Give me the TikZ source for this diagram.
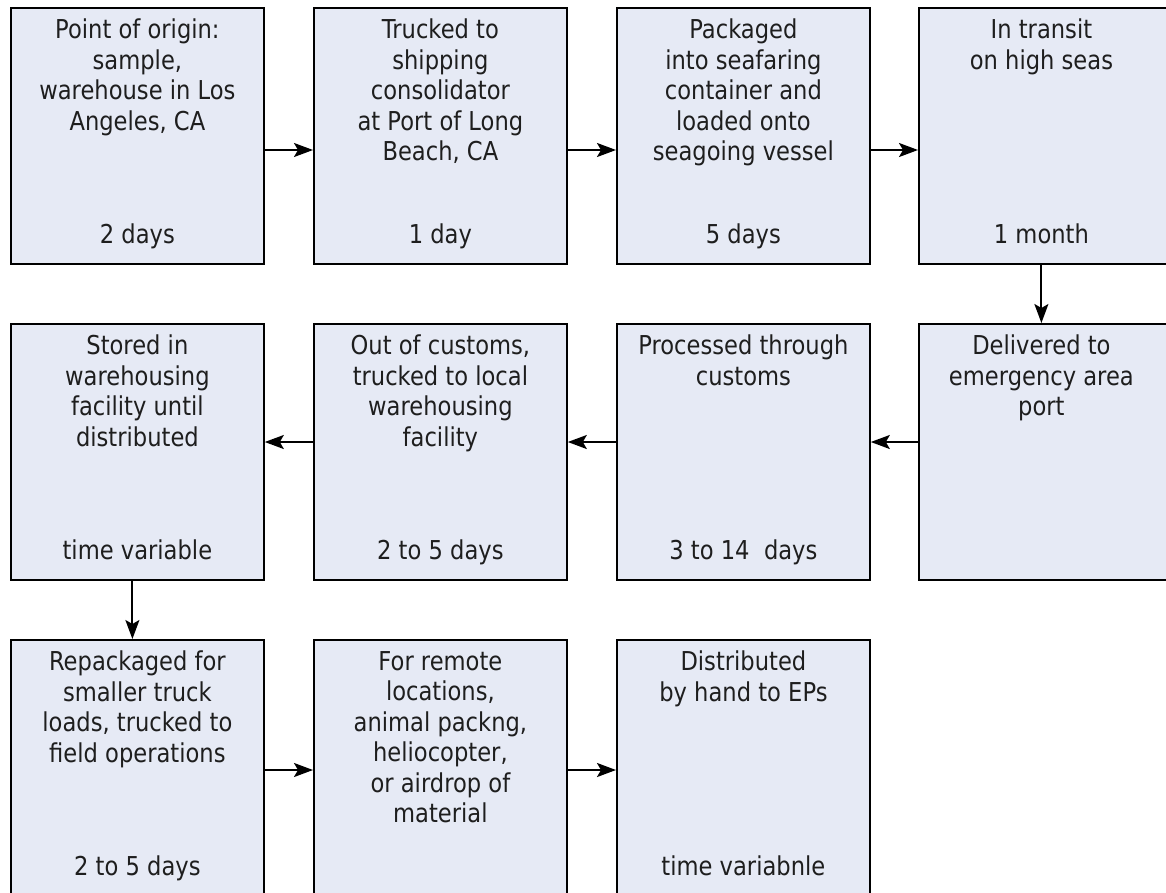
\documentclass[tikz,border=0pt]{standalone}
\usepackage{fontspec}
\setmainfont{DejaVu Sans}[FakeStretch=0.87]
\usetikzlibrary{arrows.meta}
\definecolor{boxfill}{RGB}{230,234,245}
\definecolor{txt}{RGB}{30,30,30}
\newcommand\bfnt{\fontsize{26}{30.5}\selectfont}
\begin{document}
\begin{tikzpicture}[x=1pt,y=-1pt,
  box/.style={draw=black, line width=1.8pt, fill=boxfill, minimum width=253pt, minimum height=256pt, anchor=north west, inner sep=0pt},
  toptext/.style={anchor=north, align=center, font=\bfnt, text=txt, inner sep=0pt, execute at begin node=\strut, yshift=-12pt},
  bottext/.style={anchor=base, font=\bfnt, text=txt, inner sep=0pt, yshift=21pt},
  arr/.style={line width=2pt, -{Stealth[length=19pt,width=14pt,inset=4pt]}}]
\useasboundingbox (0,0) rectangle (1166,892);
\clip (0,0) rectangle (1166,892);
% row 1
\node[box] (b1) at (10,7) {};
\node[box] (b2) at (313,7) {};
\node[box] (b3) at (616,7) {};
\node[box] (b4) at (918,7) {};
% row 2
\node[box] (b8) at (10,323) {};
\node[box] (b7) at (313,323) {};
\node[box] (b6) at (616,323) {};
\node[box] (b5) at (918,323) {};
% row 3
\node[box] (b9) at (10,639) {};
\node[box] (b10) at (313,639) {};
\node[box] (b11) at (616,639) {};
% texts
\node[toptext] (t1) at (b1.north) {Point of origin:\\sample,\\warehouse in Los\\Angeles, CA};
\node[bottext] (d1) at (b1.south) {2 days};
\node[toptext] (t2) at (b2.north) {Trucked to\\shipping\\consolidator\\at Port of Long\\Beach, CA};
\node[bottext] (d2) at (b2.south) {1 day};
\node[toptext] (t3) at (b3.north) {Packaged\\into seafaring\\container and\\loaded onto\\seagoing vessel};
\node[bottext] (d3) at (b3.south) {5 days};
\node[toptext] (t4) at ([xshift=-4pt]b4.north) {In transit\\on high seas};
\node[bottext] (d4) at ([xshift=-4pt]b4.south) {1 month};
\node[toptext] (t5) at ([xshift=-4pt]b5.north) {Delivered to\\emergency area\\port};
\node[toptext] (t6) at (b6.north) {Processed through\\customs};
\node[bottext] (d6) at (b6.south) {3 to 14\ \ days};
\node[toptext] (t7) at (b7.north) {Out of customs,\\trucked to local\\warehousing\\facility};
\node[bottext] (d7) at (b7.south) {2 to 5 days};
\node[toptext] (t8) at (b8.north) {Stored in\\warehousing\\facility until\\distributed};
\node[bottext] (d8) at (b8.south) {time variable};
\node[toptext] (t9) at (b9.north) {Repackaged for\\smaller truck\\loads, trucked to\\field operations};
\node[bottext] (d9) at (b9.south) {2 to 5 days};
\node[toptext] (t10) at (b10.north) {For remote\\locations,\\animal packng,\\heliocopter,\\or airdrop of\\material};
\node[toptext] (t11) at (b11.north) {Distributed\\by hand to EPs};
\node[bottext] (d11) at (b11.south) {time variabnle};
% arrows
\draw[arr] (b1.east |- 0,150) -- (b2.west |- 0,150);
\draw[arr] (b2.east |- 0,150) -- (b3.west |- 0,150);
\draw[arr] (b3.east |- 0,150) -- (b4.west |- 0,150);
\draw[arr] ([xshift=-4pt]b4.south) -- ([xshift=-4pt]b5.north);
\draw[arr] (b5.west |- 0,442) -- (b6.east |- 0,442);
\draw[arr] (b6.west |- 0,442) -- (b7.east |- 0,442);
\draw[arr] (b7.west |- 0,442) -- (b8.east |- 0,442);
\draw[arr] ([xshift=-5pt]b8.south) -- ([xshift=-5pt]b9.north);
\draw[arr] (b9.east |- 0,770) -- (b10.west |- 0,770);
\draw[arr] (b10.east |- 0,770) -- (b11.west |- 0,770);
\end{tikzpicture}
\end{document}
